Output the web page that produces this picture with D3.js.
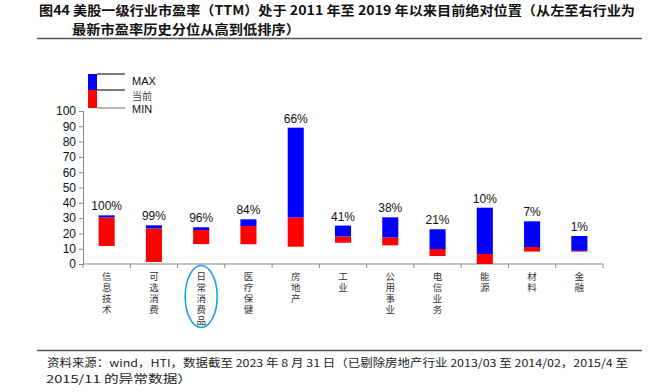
<!DOCTYPE html>
<html><head><meta charset="utf-8">
<script src="https://cdn.jsdelivr.net/npm/d3@7"></script>
<style>body{margin:0;background:#fff}svg{display:block}</style>
</head><body>
<script>
const categories = ["信息技术","可选消费","日常消费品","医疗保健","房地产","工业","公用事业","电信业务","能源","材料","金融"];
const maxValues = [31.8, 25.3, 24.0, 29.2, 89.1, 25.1, 30.5, 22.7, 36.8, 27.9, 18.3];
const currentValues = [30.3, 23.1, 22.2, 24.8, 30.3, 17.9, 17.2, 9.8, 6.5, 11.1, 8.6];
const minValues = [11.8, 1.3, 13.0, 12.9, 11.3, 13.9, 12.2, 5.2, 0.0, 8.1, 8.1];
const percentLabels = ["100%","99%","96%","84%","66%","41%","38%","21%","10%","7%","1%"];
const yTicks = [0,10,20,30,40,50,60,70,80,90,100];
const titleLines = ["图44 美股一级行业市盈率（TTM）处于 2011 年至 2019 年以来目前绝对位置（从左至右行业为","最新市盈率历史分位从高到低排序）"];
const footerLines = ["资料来源：wind，HTI，数据截至 2023 年 8 月 31 日（已剔除房地产行业 2013/03 至 2014/02，2015/4 至","2015/11 的异常数据）"];
const legendLabels = ["MAX","当前","MIN"];
const highlighted = "日常消费品";

const W = 656, H = 392;
const svg = d3.select("body").append("svg").attr("width", W).attr("height", H);
const cjk = "'Noto Sans CJK SC', 'Noto Sans', sans-serif";
const latin = "'Liberation Sans', Arial, sans-serif";

// Title
svg.append("text").attr("x", 39).attr("y", 15.3).attr("font-family", cjk).attr("font-weight", "bold")
  .attr("font-size", 13).attr("fill", "#111").attr("textLength", 596).attr("lengthAdjust", "spacingAndGlyphs")
  .text(titleLines[0]);
svg.append("text").attr("x", 72).attr("y", 34.3).attr("font-family", cjk).attr("font-weight", "bold")
  .attr("font-size", 13).attr("fill", "#111").attr("textLength", 228).attr("lengthAdjust", "spacingAndGlyphs")
  .text(titleLines[1]);
svg.append("line").attr("x1", 37).attr("x2", 642).attr("y1", 38.5).attr("y2", 38.5)
  .attr("stroke", "#555").attr("stroke-width", 1.5);

// Footer
svg.append("line").attr("x1", 37).attr("x2", 642).attr("y1", 350.5).attr("y2", 350.5)
  .attr("stroke", "#555").attr("stroke-width", 1.5);
svg.append("text").attr("x", 47).attr("y", 367).attr("font-family", cjk).attr("font-size", 11)
  .attr("fill", "#222").attr("textLength", 581).attr("lengthAdjust", "spacingAndGlyphs").text(footerLines[0]);
svg.append("text").attr("x", 46).attr("y", 383).attr("font-family", cjk).attr("font-size", 11)
  .attr("fill", "#222").attr("textLength", 146).attr("lengthAdjust", "spacingAndGlyphs").text(footerLines[1]);

// Scales
const x = d3.scaleBand().domain(categories).range([83, 603]);
const y = d3.scaleLinear().domain([0, 100]).range([264, 111]);
const barW = x.bandwidth() * 0.34;

// Y axis
const yAxis = svg.append("g").attr("transform", "translate(83,0)")
  .call(d3.axisLeft(y).tickValues(yTicks).tickSize(4).tickPadding(3));
yAxis.select(".domain").attr("stroke", "#888");
yAxis.selectAll(".tick line").attr("stroke", "#888");
yAxis.selectAll(".tick text").attr("font-family", latin).attr("font-size", 12).attr("fill", "#111");

// X axis
const xAxisG = svg.append("g").attr("transform", "translate(0,264)");
xAxisG.append("line").attr("x1", 83).attr("x2", 603).attr("stroke", "#888");
const bounds = categories.map(c => x(c)).concat([603]);
xAxisG.selectAll("line.tk").data(bounds).join("line").attr("class", "tk")
  .attr("x1", d => d).attr("x2", d => d).attr("y1", 0).attr("y2", 4).attr("stroke", "#888");

// Category labels (vertical text)
svg.append("g").selectAll("text").data(categories).join("text")
  .attr("font-family", cjk).attr("font-size", 9.5).attr("fill", "#333")
  .style("writing-mode", "vertical-rl").style("text-orientation", "upright")
  .attr("letter-spacing", 1.3)
  .attr("x", c => x(c) + x.bandwidth() / 2).attr("y", 272)
  .text(c => c);

// Highlight ellipse
svg.append("ellipse").attr("cx", x(highlighted) + x.bandwidth() / 2).attr("cy", 296.5)
  .attr("rx", 16).attr("ry", 31).attr("fill", "none").attr("stroke", "#1AA3E8").attr("stroke-width", 1.6);

// Bars
const bars = svg.append("g");
categories.forEach((c, i) => {
  const bx = x(c) + (x.bandwidth() - barW) / 2;
  bars.append("rect").attr("x", bx).attr("width", barW)
    .attr("y", y(maxValues[i])).attr("height", y(currentValues[i]) - y(maxValues[i])).attr("fill", "#0000FF");
  bars.append("rect").attr("x", bx).attr("width", barW)
    .attr("y", y(currentValues[i])).attr("height", y(minValues[i]) - y(currentValues[i])).attr("fill", "#FF0000");
  svg.append("text").attr("x", x(c) + x.bandwidth() / 2).attr("y", y(maxValues[i]) - 5)
    .attr("text-anchor", "middle").attr("font-family", latin).attr("font-size", 12).attr("fill", "#111")
    .text(percentLabels[i]);
});

// Legend
const lg = svg.append("g");
lg.append("rect").attr("x", 88).attr("y", 74).attr("width", 9).attr("height", 16).attr("fill", "#0000FF");
lg.append("rect").attr("x", 88).attr("y", 90).attr("width", 9).attr("height", 18).attr("fill", "#FF0000");
[[74, "#222"], [90, "#222"], [108, "#888"]].forEach(([ly, col]) => {
  lg.append("line").attr("x1", 97).attr("x2", 125).attr("y1", ly).attr("y2", ly).attr("stroke", col).attr("stroke-width", 1.2);
});
lg.append("text").attr("x", 132).attr("y", 85).attr("font-family", latin).attr("font-size", 11).attr("fill", "#111").text(legendLabels[0]);
lg.append("text").attr("x", 132).attr("y", 100).attr("font-family", cjk).attr("font-size", 10).attr("fill", "#444").text(legendLabels[1]);
lg.append("text").attr("x", 132).attr("y", 113).attr("font-family", latin).attr("font-size", 11).attr("fill", "#111").text(legendLabels[2]);
</script>
</body></html>
